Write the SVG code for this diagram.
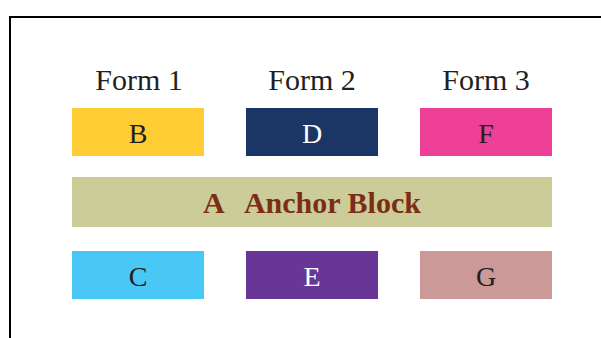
<svg xmlns="http://www.w3.org/2000/svg" width="601" height="338" viewBox="0 0 601 338">
<style>
.lbl{font-family:"Liberation Serif","DejaVu Serif",serif;fill:#231f20;text-anchor:middle}
.hd{font-size:30px}
.bx{font-size:28px}
.w{fill:#ffffff}
.anc{font-size:30px;font-weight:bold;fill:#7b2d15}
</style>
<rect width="601" height="338" fill="#ffffff"/>
<path d="M10,338 V17 H601" fill="none" stroke="#000000" stroke-width="2"/>
<g id="headers">
<text class="lbl hd" x="139" y="90">Form 1</text>
<text class="lbl hd" x="312" y="90">Form 2</text>
<text class="lbl hd" x="486" y="90">Form 3</text>
</g>
<g id="B"><rect x="72" y="108" width="132" height="48" fill="#FFCC33"/><text class="lbl bx" x="138" y="143">B</text></g>
<g id="D"><rect x="246" y="108" width="132" height="48" fill="#1B3664"/><text class="lbl bx w" x="312" y="143">D</text></g>
<g id="F"><rect x="420" y="108" width="132" height="48" fill="#EE4097"/><text class="lbl bx" x="486" y="143">F</text></g>
<g id="A"><rect x="72" y="177" width="480" height="50" fill="#CCCC99"/><text class="lbl anc" x="312" y="213" xml:space="preserve">A   Anchor Block</text></g>
<g id="C"><rect x="72" y="251" width="132" height="48" fill="#49C8F5"/><text class="lbl bx" x="138" y="286">C</text></g>
<g id="E"><rect x="246" y="251" width="132" height="48" fill="#673696"/><text class="lbl bx w" x="312" y="286">E</text></g>
<g id="G"><rect x="420" y="251" width="132" height="48" fill="#CC9999"/><text class="lbl bx" x="486" y="286">G</text></g>
<g id="connectors"/>
</svg>
